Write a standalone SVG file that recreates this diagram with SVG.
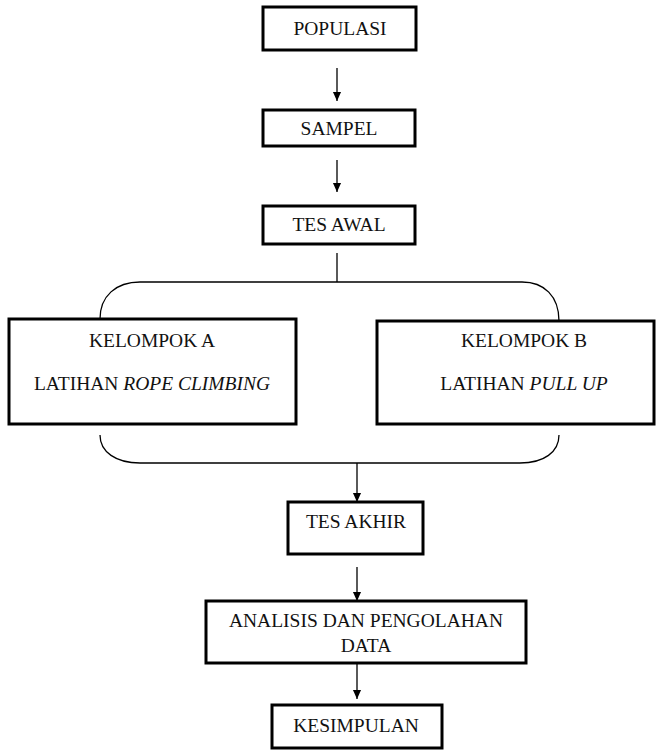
<svg xmlns="http://www.w3.org/2000/svg" width="664" height="754" viewBox="0 0 664 754">
<defs>
<marker id="arr" markerWidth="9" markerHeight="10" refX="10" refY="4.5" orient="auto" markerUnits="userSpaceOnUse" viewBox="0 0 10 9">
<path d="M0,0 L10,4.5 L0,9 Z" fill="#000"/>
</marker>
</defs>
<style>
.box{fill:#fff;stroke:#000;stroke-width:3}
text{font-family:'Liberation Serif','Times New Roman',Tinos,'Noto Serif','DejaVu Serif',Times,serif;font-size:19.5px;fill:#111;text-anchor:middle}
.i{font-style:italic}
.c{fill:none;stroke:#000;stroke-width:1.3}
</style>
<rect width="664" height="754" fill="#fff"/>
<g id="connectors">
<line class="c" x1="337" y1="68" x2="337" y2="101" marker-end="url(#arr)"/>
<line class="c" x1="337" y1="160" x2="337" y2="192" marker-end="url(#arr)"/>
<line class="c" x1="337" y1="253" x2="337" y2="282"/>
<path class="c" d="M100,319 C100,296 116,282 140,282 L522,282 C544,282 559,296 559,321"/>
<path class="c" d="M100,435 C100,452 116,463 140,463 L520,463 C544,463 559,452 559,435"/>
<line class="c" x1="357" y1="463" x2="357" y2="502" marker-end="url(#arr)"/>
<line class="c" x1="357" y1="567" x2="357" y2="601" marker-end="url(#arr)"/>
<line class="c" x1="357" y1="663" x2="357" y2="699" marker-end="url(#arr)"/>
</g>
<g id="populasi">
<rect class="box" x="263" y="7" width="153" height="43"/>
<text x="340" y="35">POPULASI</text>
</g>
<g id="sampel">
<rect class="box" x="263" y="110" width="152" height="36"/>
<text x="339" y="135">SAMPEL</text>
</g>
<g id="tes-awal">
<rect class="box" x="263" y="206" width="152" height="38"/>
<text x="339" y="231">TES AWAL</text>
</g>
<g id="kelompok-a">
<rect class="box" x="9" y="319" width="287" height="105"/>
<text x="152" y="347">KELOMPOK A</text>
<text x="152" y="390">LATIHAN <tspan class="i">ROPE CLIMBING</tspan></text>
</g>
<g id="kelompok-b">
<rect class="box" x="377" y="321" width="277" height="103"/>
<text x="524" y="347">KELOMPOK B</text>
<text x="524" y="390">LATIHAN <tspan class="i">PULL UP</tspan></text>
</g>
<g id="tes-akhir">
<rect class="box" x="288" y="502" width="135" height="52"/>
<text x="356" y="528">TES AKHIR</text>
</g>
<g id="analisis">
<rect class="box" x="206" y="601" width="320" height="62"/>
<text x="366" y="627">ANALISIS DAN PENGOLAHAN</text>
<text x="366" y="652">DATA</text>
</g>
<g id="kesimpulan">
<rect class="box" x="272" y="705" width="170" height="43"/>
<text x="356" y="732">KESIMPULAN</text>
</g>
</svg>
